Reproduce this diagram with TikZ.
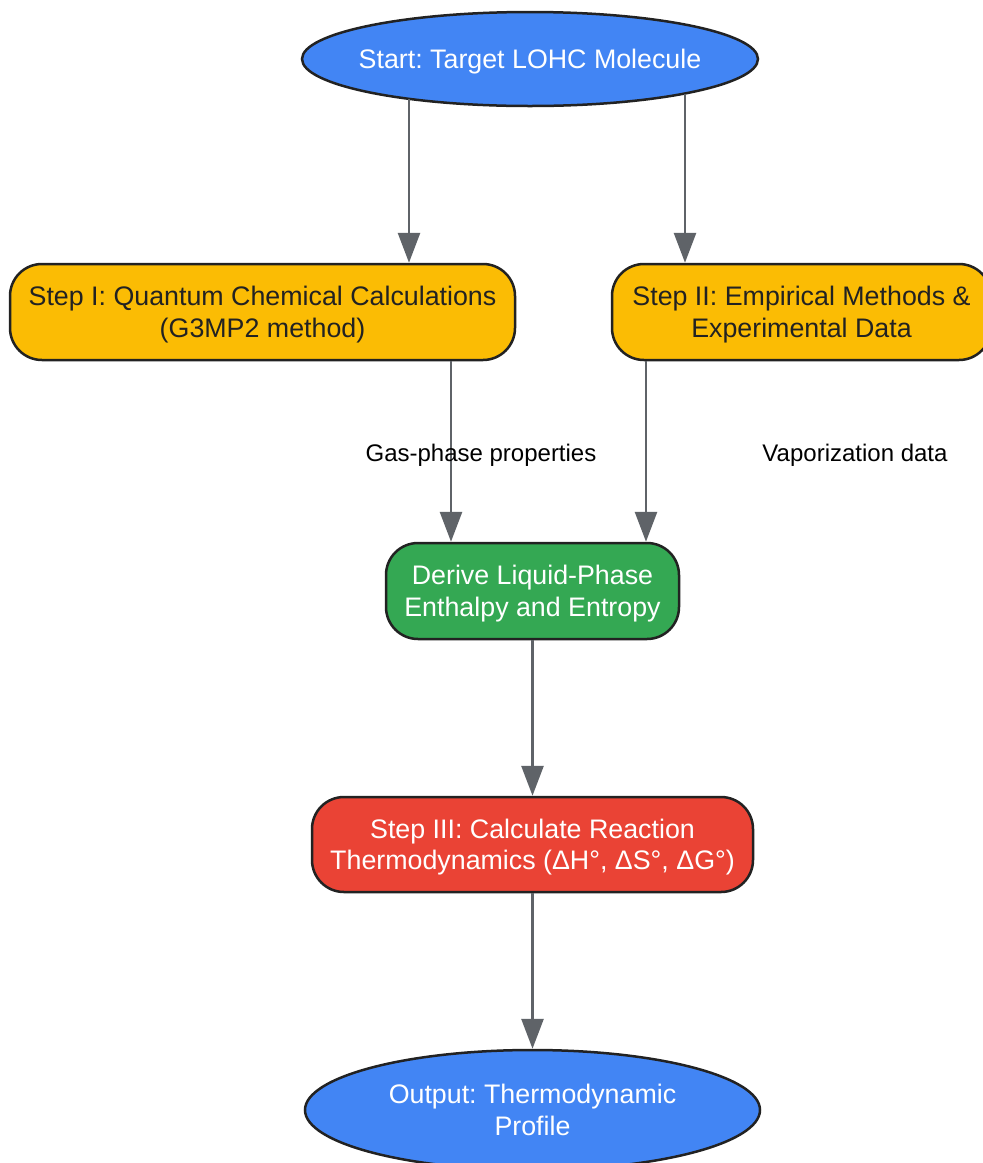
\documentclass[tikz,border=0pt]{standalone}
\usepackage{fontspec}
\setmainfont{Liberation Sans}
\frenchspacing
\usetikzlibrary{shapes.geometric,arrows.meta}
\definecolor{gblue}{HTML}{4285F4}
\definecolor{gyellow}{HTML}{FBBC04}
\definecolor{ggreen}{HTML}{34A853}
\definecolor{gred}{HTML}{EA4335}
\definecolor{edgegray}{HTML}{5F6368}
\definecolor{outline}{HTML}{222222}
\tikzset{
  base/.style={draw=outline, line width=2.5pt, align=center, inner sep=0pt,
    text depth=0pt, font=\fontsize{26.8}{31.5}\selectfont},
  oval/.style={base, ellipse, fill=gblue, text=white},
  roundbox/.style={base, rectangle, rounded corners=32pt},
  yellowbox/.style={roundbox, fill=gyellow, text=outline},
  greenbox/.style={roundbox, fill=ggreen, text=white},
  redbox/.style={roundbox, fill=gred, text=white},
  arr/.style={draw=edgegray, line width=2.8pt,
    -{Triangle[length=30pt,width=22pt]}},
  elabel/.style={font=\fontsize{24}{29}\selectfont, text=black, text depth=0pt}
}
\begin{document}
\begin{tikzpicture}[x=1pt,y=-1pt]
\useasboundingbox (0,0) rectangle (983,1163);
\fill[white] (0,0) rectangle (983,1163);

\node[oval, minimum width=456pt, minimum height=94pt] (start) at (530,59)
  {\makebox[0pt]{Start: Target LOHC Molecule}};
\node[yellowbox, minimum width=505pt, minimum height=96pt] (s1) at (262.5,312)
  {Step I: Quantum Chemical Calculations\\(G3MP2 method)};
\node[yellowbox, minimum width=379pt, minimum height=96pt] (s2) at (801.5,312)
  {Step II: Empirical Methods \&\\Experimental Data};
\node[greenbox, minimum width=293pt, minimum height=96pt] (derive) at (532.5,591)
  {Derive Liquid-Phase\\Enthalpy and Entropy};
\node[redbox, minimum width=441pt, minimum height=95pt] (s3) at (532.5,844.5)
  {Step III: Calculate Reaction\\Thermodynamics (ΔH°, ΔS°, ΔG°)};
\node[oval, minimum width=455pt, minimum height=120pt] (out) at (532.5,1110)
  {\makebox[0pt]{Output: Thermodynamic}\\\makebox[0pt]{Profile}};

\coordinate (sa) at (409,99);
\coordinate (sb) at (685,94);
\coordinate (xa) at (451,0);
\coordinate (xb) at (646,0);

\draw[arr] (sa) -- (sa |- s1.north);
\draw[arr] (sb) -- (sb |- s2.north);
\draw[arr] (s1.south -| xa) -- (xa |- derive.north);
\draw[arr] (s2.south -| xb) -- (xb |- derive.north);
\draw[arr] (derive) -- (s3);
\draw[arr] (s3) -- (out);

\node[elabel] (l1) at (481,453) {Gas-phase properties};
\node[elabel] (l2) at (855,453) {Vaporization data};
\end{tikzpicture}
\end{document}
